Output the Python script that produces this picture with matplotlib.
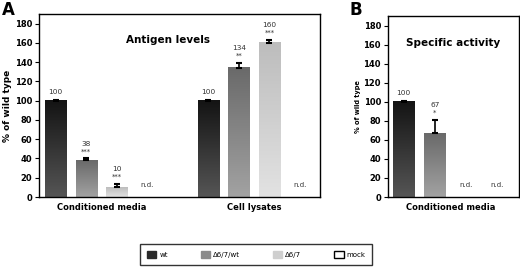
import numpy as np
import matplotlib
matplotlib.use("Agg")
import matplotlib.pyplot as plt
from matplotlib.colors import LinearSegmentedColormap
from matplotlib.patches import Patch

# data
groups_a = ["Conditioned media", "Cell lysates"]
groups_b = ["Conditioned media"]
variants = ["wt", "\u03946/7/wt", "\u03946/7", "mock"]
antigen_cm = [100, 38, 10, None]
antigen_cm_err = [0.6, 2.0, 4.0, 0]
antigen_cm_stars = ["", "***", "***", ""]
antigen_cl = [100, 134, 160, None]
antigen_cl_err = [0.6, 5.0, 3.0, 0]
antigen_cl_stars = ["", "**", "***", ""]
activity_cm = [100, 67, None, None]
activity_cm_err = [0.6, 14.0, 0, 0]
activity_cm_stars = ["", "*", "", ""]

# (top colour, bottom colour) of each bar gradient
grad = {
    "wt": ("#141414", "#555555"),
    "\u03946/7/wt": ("#6a6a6a", "#a2a2a2"),
    "\u03946/7": ("#bdbdbd", "#e2e2e2"),
}
legend_face = {"wt": "#2a2a2a", "\u03946/7/wt": "#8a8a8a", "\u03946/7": "#cfcfcf", "mock": "white"}

W = 0.7
TXT = "#333333"


def draw_group(ax, x0, vals, errs, stars):
    for i, (v, e, s, name) in enumerate(zip(vals, errs, stars, variants)):
        x = x0 + i
        if v is None:
            ax.text(x, 13, "n.d.", ha="center", va="center", fontsize=5, color=TXT)
            continue
        top_c, bot_c = grad[name]
        cmap = LinearSegmentedColormap.from_list(name, [bot_c, top_c])
        g = np.linspace(0, 1, 64).reshape(-1, 1)
        ax.imshow(g, extent=[x - W / 2, x + W / 2, 0, v], origin="lower",
                  cmap=cmap, aspect="auto", zorder=2)
        ax.errorbar(x, v, yerr=[[0], [e]], fmt="none", ecolor="black",
                    elinewidth=1.2, capsize=2.5, capthick=1.5, zorder=3)
        top = v + e
        if s:
            ax.text(x, top + 4, s, ha="center", va="bottom", fontsize=5, color=TXT)
            ax.text(x, top + 12, str(v), ha="center", va="bottom", fontsize=5.3, color=TXT)
        else:
            ax.text(x, top + 5, str(v), ha="center", va="bottom", fontsize=5.3, color=TXT)


def style(ax, ylabel_size):
    ax.set_ylim(0, 190)
    ax.set_yticks(range(0, 181, 20))
    ax.tick_params(axis="y", labelsize=6, length=3, width=0.8, pad=2)
    ax.tick_params(axis="x", length=0, labelsize=6, pad=4)
    for t in ax.get_yticklabels() + ax.get_xticklabels():
        t.set_fontweight("bold")
    for sp in ax.spines.values():
        sp.set_linewidth(1.0)
    ax.set_ylabel("% of wild type", fontsize=ylabel_size, fontweight="bold", labelpad=2)


fig = plt.figure(figsize=(5.2, 2.67), dpi=100)

axA = fig.add_axes([0.075, 0.262, 0.54, 0.686])
draw_group(axA, 0, antigen_cm, antigen_cm_err, antigen_cm_stars)
draw_group(axA, 5, antigen_cl, antigen_cl_err, antigen_cl_stars)
axA.set_xlim(-0.55, 8.65)
axA.set_xticks([1.5, 6.5])
axA.set_xticklabels(groups_a)
style(axA, 6.5)
axA.text(0.46, 0.86, "Antigen levels", transform=axA.transAxes, ha="center",
         va="center", fontsize=7.5, fontweight="bold")

axB = fig.add_axes([0.746, 0.262, 0.252, 0.678])
draw_group(axB, 0, activity_cm, activity_cm_err, activity_cm_stars)
axB.set_xlim(-0.5, 3.7)
axB.set_xticks([1.5])
axB.set_xticklabels(groups_b)
style(axB, 4.8)
axB.text(0.5, 0.85, "Specific activity", transform=axB.transAxes, ha="center",
         va="center", fontsize=7.5, fontweight="bold")

fig.text(0.003, 0.995, "A", ha="left", va="top", fontsize=12, fontweight="bold")
fig.text(0.672, 0.995, "B", ha="left", va="top", fontsize=12, fontweight="bold")

handles = [Patch(facecolor=legend_face[n], edgecolor="black" if n == "mock" else legend_face[n],
                 linewidth=1.0) for n in variants]
leg = fig.legend(handles, variants, loc="center", bbox_to_anchor=(0.493, 0.047), ncol=4,
                 fontsize=5, frameon=True, fancybox=False, edgecolor="black",
                 handlelength=1.3, handleheight=1.3, columnspacing=4.8, handletextpad=0.4,
                 borderpad=1.0, borderaxespad=0)
leg.get_frame().set_linewidth(1.0)

fig.savefig("out.png", dpi=100)
